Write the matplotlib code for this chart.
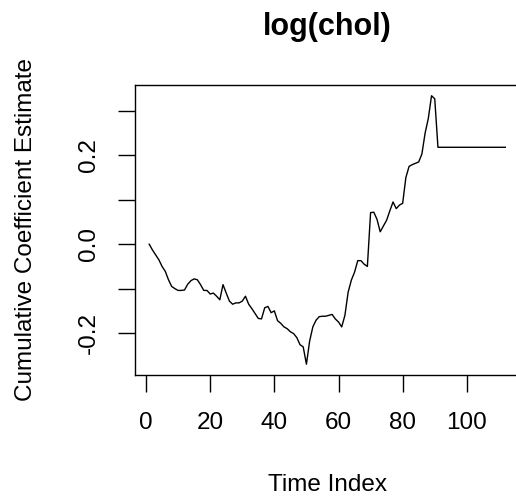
import matplotlib
matplotlib.use("Agg")
import matplotlib.pyplot as plt
from matplotlib.ticker import FixedFormatter, FixedLocator

plt.rcParams['font.family'] = ['Liberation Sans', 'DejaVu Sans']

# cumulative coefficient estimate
time_index = list(range(1, 113))
coef = [0.000, -0.013, -0.024, -0.035, -0.050, -0.061, -0.080, -0.095, -0.100, -0.104,
        -0.104, -0.103, -0.090, -0.082, -0.078, -0.080, -0.091, -0.104, -0.104, -0.112,
        -0.110, -0.117, -0.125, -0.091, -0.110, -0.128, -0.135, -0.132, -0.132, -0.128,
        -0.117, -0.135, -0.145, -0.156, -0.167, -0.168, -0.143, -0.140, -0.154, -0.150,
        -0.172, -0.178, -0.186, -0.190, -0.197, -0.201, -0.210, -0.226, -0.231, -0.270,
        -0.218, -0.186, -0.171, -0.163, -0.162, -0.162, -0.160, -0.158, -0.168, -0.175,
        -0.186, -0.160, -0.108, -0.081, -0.063, -0.037, -0.037, -0.045, -0.050, 0.071,
        0.072, 0.056, 0.028, 0.041, 0.054, 0.075, 0.095, 0.080, 0.088, 0.092,
        0.150, 0.175, 0.179, 0.182, 0.185, 0.203, 0.250, 0.283, 0.334, 0.327,
        0.218, 0.218, 0.218, 0.218, 0.218, 0.218, 0.218, 0.218, 0.218, 0.218,
        0.218, 0.218, 0.218, 0.218, 0.218, 0.218, 0.218, 0.218, 0.218, 0.218,
        0.218, 0.218]

x_ticks = [0, 20, 40, 60, 80, 100]
y_ticks = [-0.2, -0.1, 0.0, 0.1, 0.2, 0.3]
y_labels = ['-0.2', '', '0.0', '', '0.2', '']

fig = plt.figure(figsize=(5.16, 5.04), dpi=100)
ax = fig.add_axes([0.2616, 0.256, 0.7453, 0.5754])

ax.plot(time_index, coef, color='black', lw=1.0)
ax.margins(x=0.04, y=0.04)

ax.xaxis.set_major_locator(FixedLocator(x_ticks))
ax.yaxis.set_major_locator(FixedLocator(y_ticks))
ax.yaxis.set_major_formatter(FixedFormatter(y_labels))
ax.tick_params(direction='out', length=12, width=1, labelsize=17.5, color='black')
ax.tick_params(axis='x', pad=15)
ax.tick_params(axis='y', pad=13)
for lab in ax.get_yticklabels():
    lab.set_rotation(90)
    lab.set_va('center')

for sp in ax.spines.values():
    sp.set_linewidth(1.0)

ax.set_xlabel('Time Index', fontsize=17.5)
ax.xaxis.set_label_coords(0.5, -0.379)
ax.xaxis.label.set_va('center')
ax.set_ylabel('Cumulative Coefficient Estimate', fontsize=17.5)
ax.yaxis.set_label_coords(-0.2834, 0.5)
ax.yaxis.label.set_va('center')

ax.set_title('log(chol)', fontsize=22, fontweight='bold', pad=36)

fig.savefig('out.png', dpi=100)
